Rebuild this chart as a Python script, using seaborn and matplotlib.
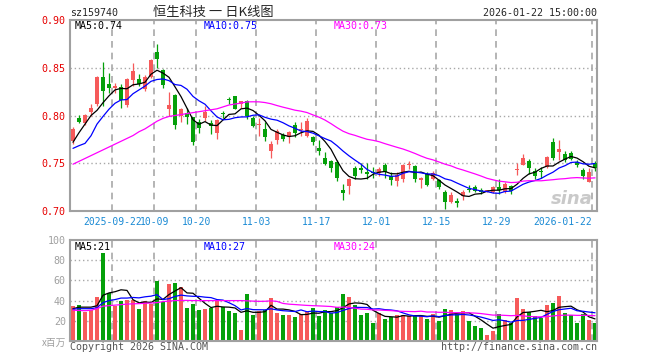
#!/usr/bin/env python3

import matplotlib
matplotlib.use('Agg')
import matplotlib.pyplot as plt
import matplotlib.transforms as mtransforms
import numpy as np
import pandas as pd
import seaborn as sns


# Trading days shown (one candle each)
TRADE_DAYS = {
    '2025-09': [11, 12, 15, 16, 17, 18, 19, 22, 23, 24, 25, 26, 29, 30],
    '2025-10': [9, 10, 13, 14, 15, 16, 17, 20, 21, 22, 23, 24, 27, 28, 29, 30, 31],
    '2025-11': [3, 4, 5, 6, 7, 10, 11, 12, 13, 14, 17, 18, 19, 20, 21, 24, 25, 26, 27, 28],
    '2025-12': [1, 2, 3, 4, 5, 8, 9, 10, 11, 12, 15, 16, 17, 18, 19, 22, 23, 24, 25, 26, 29, 30, 31],
    '2026-01': [5, 6, 7, 8, 9, 12, 13, 14, 15, 16, 19, 20, 21, 22],
}
TICK_DATES = ['2025-09-22', '2025-10-09', '2025-10-20', '2025-11-03', '2025-11-17',
              '2025-12-01', '2025-12-15', '2025-12-29', '2026-01-22']
TICK_LABELS = ['2025-09-22', '10-09', '10-20', '11-03', '11-17',
               '12-01', '12-15', '12-29', '2026-01-22']

OPENS = [0.773, 0.797, 0.792, 0.804, 0.812, 0.840, 0.833, 0.829, 0.830, 0.811,
         0.837, 0.838, 0.828, 0.840, 0.867, 0.848, 0.807, 0.821, 0.800, 0.803,
         0.798, 0.793, 0.797, 0.792, 0.782, 0.8026, 0.817, 0.820, 0.812, 0.815,
         0.797, 0.7905, 0.786, 0.763, 0.774, 0.780, 0.778, 0.790, 0.7844, 0.779,
         0.777, 0.766, 0.755, 0.752, 0.751, 0.722, 0.726, 0.745, 0.7448, 0.741,
         0.7406, 0.7396, 0.748, 0.737, 0.731, 0.734, 0.7483, 0.747, 0.732, 0.739,
         0.734, 0.732, 0.720, 0.709, 0.7108, 0.716, 0.7233, 0.725, 0.7215, 0.7198,
         0.720, 0.725, 0.720, 0.7257, 0.7434, 0.748, 0.752, 0.742, 0.7417, 0.746,
         0.772, 0.7615, 0.760, 0.761, 0.751, 0.743, 0.730, 0.750]
HIGHS = [0.788, 0.801, 0.802, 0.812, 0.841, 0.856, 0.844, 0.834, 0.833, 0.839,
         0.855, 0.843, 0.842, 0.859, 0.875, 0.849, 0.825, 0.823, 0.808, 0.808,
         0.798, 0.796, 0.810, 0.795, 0.796, 0.805, 0.819, 0.8205, 0.815, 0.816,
         0.800, 0.797, 0.793, 0.773, 0.786, 0.782, 0.784, 0.793, 0.793, 0.797,
         0.779, 0.774, 0.762, 0.753, 0.753, 0.7285, 0.735, 0.747, 0.750, 0.750,
         0.746, 0.746, 0.750, 0.741, 0.741, 0.749, 0.752, 0.748, 0.736, 0.741,
         0.742, 0.734, 0.7215, 0.720, 0.7135, 0.7215, 0.7274, 0.727, 0.724, 0.7222,
         0.7257, 0.734, 0.730, 0.7274, 0.750, 0.760, 0.7545, 0.745, 0.746, 0.758,
         0.776, 0.774, 0.763, 0.763, 0.753, 0.745, 0.745, 0.752]
LOWS = [0.770, 0.792, 0.790, 0.799, 0.810, 0.810, 0.824, 0.824, 0.808, 0.809,
        0.831, 0.831, 0.826, 0.839, 0.850, 0.829, 0.800, 0.786, 0.793, 0.791,
        0.769, 0.782, 0.794, 0.781, 0.775, 0.797, 0.812, 0.807, 0.808, 0.796,
        0.788, 0.779, 0.773, 0.755, 0.770, 0.773, 0.771, 0.777, 0.779, 0.777,
        0.769, 0.759, 0.748, 0.741, 0.731, 0.712, 0.718, 0.734, 0.740, 0.734,
        0.735, 0.737, 0.735, 0.727, 0.726, 0.730, 0.744, 0.730, 0.724, 0.726,
        0.732, 0.723, 0.702, 0.708, 0.7045, 0.712, 0.7198, 0.720, 0.718, 0.7194,
        0.719, 0.718, 0.719, 0.7177, 0.738, 0.748, 0.739, 0.734, 0.735, 0.745,
        0.753, 0.753, 0.751, 0.753, 0.746, 0.734, 0.730, 0.742]
CLOSES = [0.786, 0.793, 0.800, 0.808, 0.840, 0.826, 0.829, 0.831, 0.816, 0.838,
          0.847, 0.833, 0.840, 0.858, 0.859, 0.832, 0.811, 0.790, 0.807, 0.798,
          0.772, 0.787, 0.804, 0.789, 0.795, 0.8017, 0.816, 0.807, 0.815, 0.799,
          0.789, 0.7912, 0.778, 0.770, 0.784, 0.775, 0.783, 0.782, 0.7858, 0.794,
          0.772, 0.763, 0.749, 0.745, 0.735, 0.719, 0.733, 0.737, 0.7434, 0.739,
          0.7396, 0.744, 0.741, 0.732, 0.738, 0.748, 0.749, 0.734, 0.735, 0.727,
          0.740, 0.725, 0.709, 0.717, 0.7087, 0.720, 0.7215, 0.721, 0.7198, 0.7215,
          0.725, 0.7215, 0.7285, 0.7208, 0.7441, 0.756, 0.745, 0.737, 0.7406, 0.757,
          0.756, 0.765, 0.753, 0.7545, 0.7486, 0.737, 0.741, 0.745]
VOLUMES = [35, 36, 29, 30.5, 44, 87, 47.5, 35, 40, 41,
           41, 32, 39.5, 37, 59, 38.5, 56, 57, 53.5, 33,
           37, 31, 32, 32.5, 39.5, 33.5, 30, 28, 11, 47,
           26, 30, 31, 43, 28, 26, 26, 23.5, 27, 29,
           33, 25, 31, 27.5, 34, 47, 44, 36, 26, 28,
           18, 28, 22, 24, 26, 26, 25, 24.5, 24.5, 22,
           27, 20, 32, 31, 27, 30, 19.5, 15, 13, 6,
           10, 27, 21, 18, 43, 32, 29, 25, 23, 36,
           38, 45, 28, 25.5, 18, 27, 21, 18]  # millions

# Moving-average values read for the first bars (their window starts before the chart)
PRICE_MA_HEAD = {
    5: [0.772, 0.782, 0.791, 0.800],
    10: [0.7656, 0.7684, 0.7708, 0.7788, 0.791, 0.799, 0.8066, 0.8128, 0.8163],
    30: [0.749, 0.752, 0.755, 0.758, 0.761, 0.764, 0.767, 0.770, 0.773, 0.776,
         0.779, 0.783, 0.786, 0.790, 0.794, 0.797, 0.799, 0.800, 0.801, 0.802,
         0.803, 0.804, 0.805, 0.806, 0.807, 0.809, 0.811, 0.812, 0.813],
}
VOLUME_MA_HEAD = {
    5: [32, 33.5, 33.5, 33.5],
    10: [31.5, 32, 32, 32, 33, 38, 40, 41, 42.5],
    30: [30.5, 30.2, 30, 30.5, 32, 34.5, 35, 35.5, 36, 36.5,
         36.8, 37, 37.3, 37.6, 38, 39, 39.5, 40, 40.2, 40.2,
         40, 40, 40, 40, 40, 40, 40, 40, 40],
}
PRICE_MA_TEXT = ['MA5:0.74', 'MA10:0.75', 'MA30:0.73']
VOLUME_MA_TEXT = ['MA5:21', 'MA10:27', 'MA30:24']

RED = '#f65a5a'
GREEN = '#05a00a'
MA_COLORS = {5: 'black', 10: '#0000ff', 30: '#ff00ff'}
GRID = '#a8a8a8'
FRAME = '#a0a0a0'
MONO = ['DejaVu Sans Mono']
CJK = ['Noto Sans CJK SC', 'DejaVu Sans']

W, H = 660, 360


def fx(px):
    return px / W


def fy(py):
    return 1 - py / H


def moving_avg(values, n, head):
    s = pd.Series(values, dtype=float).rolling(n).mean()
    s.iloc[:n - 1] = head
    return s.to_numpy()


def frame(ax):
    for sp in ax.spines.values():
        sp.set_visible(True)
        sp.set_color(FRAME)
        sp.set_linewidth(1.5)
    ax.tick_params(length=0)


def main():
    dates = [f'{m}-{d:02d}' for m, days in TRADE_DAYS.items() for d in days]
    df = pd.DataFrame(dict(date=dates, open=OPENS, high=HIGHS, low=LOWS,
                           close=CLOSES, volume=VOLUMES))
    df['i'] = np.arange(len(df))
    colors = np.where(df.close >= df.open, RED, GREEN)
    tick_pos = [dates.index(d) - 0.45 for d in TICK_DATES]

    sns.set_theme(style='white')
    plt.rcParams['font.family'] = MONO

    fig = plt.figure(figsize=(W / 100, H / 100), dpi=100)
    ax = fig.add_axes([fx(70), fy(211), fx(527), 191 / H])
    axv = fig.add_axes([fx(70), fy(341), fx(527), 101 / H])

    # price panel
    for y in (0.75, 0.80, 0.85):
        ax.axhline(y, color=GRID, lw=1, ls=(0, (1, 2)), zorder=0)
    for x in tick_pos:
        ax.axvline(x, color=GRID, lw=1.2, ls=(0, (4, 3)), zorder=0)
    ax.vlines(df.i, df.low, df.high, colors=colors, lw=0.9, zorder=2)
    body_low = np.minimum(df.open, df.close)
    body_h = np.maximum((df.close - df.open).abs(), 0.0008)
    ax.bar(df.i, body_h, bottom=body_low, width=0.82, color=colors,
           linewidth=0, antialiased=False, zorder=3)
    for n, head in PRICE_MA_HEAD.items():
        sns.lineplot(x=df.i, y=moving_avg(df.close, n, head), ax=ax,
                     color=MA_COLORS[n], lw=0.9, errorbar=None, zorder=4)
    ax.set_xlim(-0.5, 87.33)
    ax.set_ylim(0.70, 0.90)
    ax.set_yticks([0.70, 0.75, 0.80, 0.85, 0.90])
    ax.set_yticklabels(['0.70', '0.75', '0.80', '0.85', '0.90'],
                       color='#e60000', fontsize=7.2)
    ax.set_xticks(tick_pos)
    ax.set_xticklabels(TICK_LABELS, color='#1a8ad4', fontsize=7)
    labels = ax.get_xticklabels()
    labels[-1].set_ha('right')
    # the first two labels sit side by side, as in the original
    labels[0].set_transform(labels[0].get_transform() +
                            mtransforms.ScaledTranslation(-4 / 100, 0, fig.dpi_scale_trans))
    labels[1].set_transform(labels[1].get_transform() +
                            mtransforms.ScaledTranslation(2 / 100, 0, fig.dpi_scale_trans))
    ax.tick_params(axis='y', pad=3)
    ax.tick_params(axis='x', pad=4)
    ax.set(xlabel='', ylabel='')
    frame(ax)

    # volume panel
    for y in (20, 40, 60, 80):
        axv.axhline(y, color=GRID, lw=1, ls=(0, (1, 2)), zorder=0)
    for x in tick_pos:
        axv.axvline(x, color=GRID, lw=1.2, ls=(0, (4, 3)), zorder=0)
    axv.bar(df.i, df.volume, width=0.82, color=colors, linewidth=0,
            antialiased=False, zorder=2)
    for n, head in VOLUME_MA_HEAD.items():
        sns.lineplot(x=df.i, y=moving_avg(df.volume, n, head), ax=axv,
                     color=MA_COLORS[n], lw=0.9, errorbar=None, zorder=4)
    axv.set_xlim(-0.5, 87.33)
    axv.set_ylim(0, 100)
    axv.set_xticks([])
    axv.set_yticks([20, 40, 60, 80, 100])
    axv.set_yticklabels(['20', '40', '60', '80', '100'], color='#a0a0a0',
                        fontsize=7.2)
    axv.tick_params(axis='y', pad=3)
    axv.set(xlabel='', ylabel='')
    frame(axv)

    # texts
    fig.text(fx(70), fy(13), 'sz159740', fontsize=7.2, va='center')
    fig.text(fx(213), fy(12), '恒生科技 一 日K线图', fontsize=9.5,
             family=CJK, ha='center', va='center')
    fig.text(fx(597), fy(13), '2026-01-22 15:00:00', fontsize=7.2,
             ha='right', va='center')
    for x, label, n in zip((75, 204, 334), PRICE_MA_TEXT, (5, 10, 30)):
        fig.text(fx(x), fy(26), label, color=MA_COLORS[n], fontsize=7.2,
                 va='center')
    for x, label, n in zip((75, 204, 334), VOLUME_MA_TEXT, (5, 10, 30)):
        fig.text(fx(x), fy(247), label, color=MA_COLORS[n], fontsize=7.2,
                 va='center')
    fig.text(fx(66), fy(343), 'x百万', color='#a0a0a0', fontsize=7,
             family=CJK, ha='right', va='center')
    fig.text(fx(70), fy(347), 'Copyright 2026 SINA.COM', color='#555555',
             fontsize=7.2, va='center')
    fig.text(fx(597), fy(347), 'http://finance.sina.com.cn', color='#555555',
             fontsize=7.2, ha='right', va='center')
    fig.text(fx(572), fy(199), 'sina', color='#c4c4c4', fontsize=13,
             family=['DejaVu Sans'], weight='bold', style='italic',
             ha='center', va='center', alpha=0.9)

    fig.savefig('out.png', dpi=100)


if __name__ == '__main__':
    main()
